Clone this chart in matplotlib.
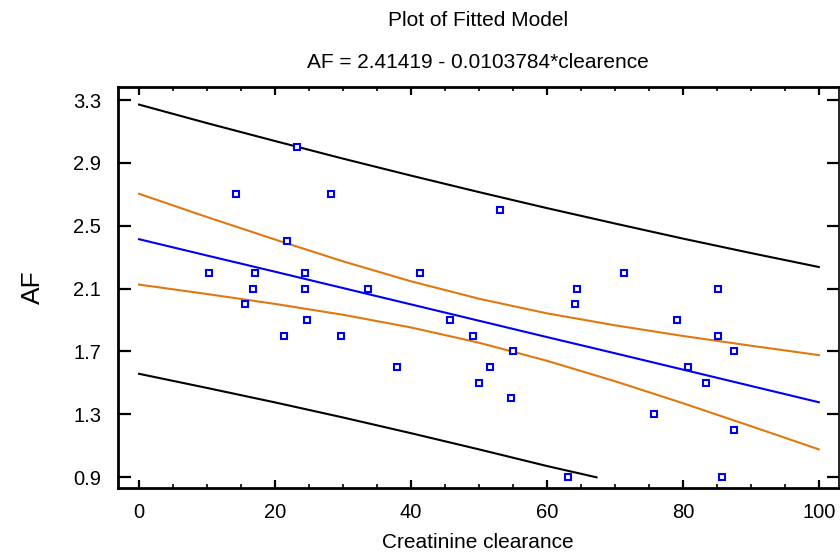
import matplotlib
matplotlib.use("Agg")
import matplotlib.pyplot as plt
from matplotlib.ticker import MultipleLocator

# ---- data ----
clearance = [10.3, 14.3, 15.6, 16.7, 17.0, 21.3, 21.7, 23.3, 24.4, 24.4, 24.7, 28.3,
             29.7, 33.7, 38.0, 41.4, 45.7, 49.1, 50.0, 51.7, 53.1, 54.7, 55.0, 63.1,
             64.1, 64.4, 71.4, 75.8, 79.1, 80.8, 83.4, 85.1, 85.1, 85.8, 87.5, 87.5]
af = [2.2, 2.7, 2.0, 2.1, 2.2, 1.8, 2.4, 3.0, 2.2, 2.1, 1.9, 2.7,
      1.8, 2.1, 1.6, 2.2, 1.9, 1.8, 1.5, 1.6, 2.6, 1.4, 1.7, 0.9,
      2.0, 2.1, 2.2, 1.3, 1.9, 1.6, 1.5, 2.1, 1.8, 0.9, 1.7, 1.2]

grid_x = [0, 10, 20, 30, 40, 50, 60, 70, 80, 90, 100]
fitted = [2.414, 2.310, 2.207, 2.103, 1.999, 1.895, 1.791, 1.688, 1.584, 1.480, 1.376]
conf_upper = [2.703, 2.555, 2.412, 2.273, 2.146, 2.035, 1.942, 1.866, 1.798, 1.736, 1.676]
conf_lower = [2.125, 2.065, 2.002, 1.933, 1.852, 1.755, 1.640, 1.510, 1.370, 1.224, 1.076]
pred_upper = [3.271, 3.153, 3.039, 2.927, 2.819, 2.714, 2.612, 2.514, 2.418, 2.326, 2.237]
pred_lower_x = [0, 10, 20, 30, 40, 50, 60, 67.3]
pred_lower = [1.557, 1.467, 1.375, 1.279, 1.179, 1.076, 0.970, 0.898]

title1 = "Plot of Fitted Model"
title2 = "AF = 2.41419 - 0.0103784*clearence"
xlabel = "Creatinine clearance"
ylabel = "AF"
yticks = [0.9, 1.3, 1.7, 2.1, 2.5, 2.9, 3.3]
xticks = [0, 20, 40, 60, 80, 100]

plt.rcParams['font.family'] = ['Liberation Sans', 'DejaVu Sans']

fig = plt.figure(figsize=(8.4, 5.58), dpi=100)
ax = fig.add_axes([118/840, 1-488/558, (838.5-118)/840, (488-87)/558])

blue = '#0000F0'
orange = '#E07810'

ax.plot(grid_x, pred_upper, color='black', lw=1.5)
ax.plot(pred_lower_x, pred_lower, color='black', lw=1.5)
ax.plot(grid_x, conf_upper, color=orange, lw=1.5)
ax.plot(grid_x, conf_lower, color=orange, lw=1.5)
ax.plot(grid_x, fitted, color=blue, lw=1.5)
ax.plot(clearance, af, linestyle='none', marker='s', ms=4.6, mfc='white',
        mec=blue, mew=1.5)

ax.set_xlim(-3.1, 102.9)
ax.set_ylim(0.83, 3.383)
ax.set_xticks(xticks)
ax.set_yticks(yticks)
ax.set_yticklabels([f"{v:.1f}" for v in yticks])
ax.xaxis.set_minor_locator(MultipleLocator(5))

for s in ax.spines.values():
    s.set_linewidth(2.0)
ax.spines['right'].set_linewidth(1.2)

ax.tick_params(axis='y', which='major', direction='in', length=9, width=1.6,
               left=True, right=True, labelsize=14.5, pad=12)
ax.tick_params(axis='x', which='major', direction='in', length=6, width=1.6,
               top=True, bottom=True, labelsize=14.5, pad=11)
ax.tick_params(axis='x', which='minor', direction='in', length=3, width=1.2,
               top=True, bottom=True)

ax.set_xlabel(xlabel, fontsize=15, labelpad=8)
ax.set_ylabel(ylabel, fontsize=19, labelpad=20)

cx = (118 + 838.5) / 2 / 840
fig.text(cx, 1-20/558, title1, ha='center', va='center', fontsize=15)
fig.text(cx, 1-62/558, title2, ha='center', va='center', fontsize=15)

fig.savefig("out.png", dpi=100)
